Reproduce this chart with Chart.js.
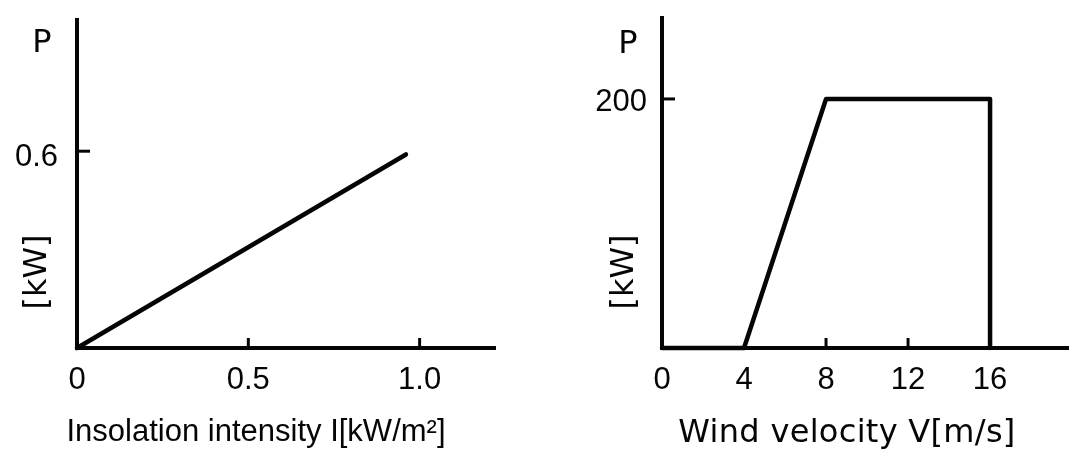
<!DOCTYPE html>
<html>
<head>
<meta charset="utf-8">
<script src="https://cdn.jsdelivr.net/npm/chart.js@4"></script>
<style>
  html, body { margin: 0; padding: 0; background: #fff; }
  #wrap { position: relative; width: 1069px; height: 459px; overflow: hidden; }
  canvas { position: absolute; top: 0; }
</style>
</head>
<body>
<div id="wrap">
  <canvas id="solarChart" width="530" height="459" style="left:0"></canvas>
  <canvas id="windChart" width="529" height="459" style="left:540px"></canvas>
</div>
<script>
// Solar panel: P vs insolation intensity
const solarX = [0, 0.96];
const solarY = [0, 0.59];
const solarXTicks = [0, 0.5, 1.0];
const solarXLabels = ['0', '0.5', '1.0'];
const solarYTicks = [0.6];
const solarYLabels = ['0.6'];

// Wind turbine: P vs wind velocity
const windX = [0, 4, 8, 16, 16];
const windY = [0, 0, 200, 200, 0];
const windXTicks = [0, 4, 8, 12, 16];
const windXLabels = ['0', '4', '8', '12', '16'];
const windYTicks = [200];
const windYLabels = ['200'];

const INK = '#050505';
const FONT = '"Liberation Sans", Arial, sans-serif';
const WIDE = '"DejaVu Sans", sans-serif';

// small tick marks drawn inside the plot area
const innerTicks = {
  id: 'innerTicks',
  afterDraw(chart, args, opts) {
    const ctx = chart.ctx;
    const xs = chart.scales.x, ys = chart.scales.y;
    ctx.save();
    ctx.strokeStyle = INK;
    ctx.lineWidth = 3;
    (opts.x || []).forEach(v => {
      const px = xs.getPixelForValue(v);
      ctx.beginPath();
      ctx.moveTo(px, ys.bottom);
      ctx.lineTo(px, ys.bottom - opts.len);
      ctx.stroke();
    });
    (opts.y || []).forEach(v => {
      const py = ys.getPixelForValue(v);
      ctx.beginPath();
      ctx.moveTo(xs.left, py);
      ctx.lineTo(xs.left + opts.len + 3, py);
      ctx.stroke();
    });
    ctx.restore();
  }
};

// free text: axis symbols, units and titles
const freeText = {
  id: 'freeText',
  afterDraw(chart, args, opts) {
    const ctx = chart.ctx;
    ctx.save();
    ctx.fillStyle = INK;
    ctx.textAlign = 'center';
    ctx.textBaseline = 'middle';
    (opts.items || []).forEach(t => {
      ctx.save();
      ctx.font = (t.size || 30) + 'px ' + (t.family || FONT);
      ctx.letterSpacing = (t.spacing || 0) + 'px';
      ctx.translate(t.x, t.y);
      if (t.rotate) ctx.rotate(t.rotate);
      ctx.fillText(t.text, 0, 0);
      ctx.restore();
    });
    ctx.restore();
  }
};

function makeChart(id, xs, ys, cfg) {
  const points = xs.map((x, i) => ({ x: x, y: ys[i] }));
  return new Chart(document.getElementById(id), {
    type: 'line',
    data: {
      datasets: [{
        data: points,
        borderColor: INK,
        borderWidth: 4.5,
        pointRadius: 0,
        tension: 0,
        fill: false,
        clip: false,
        borderJoinStyle: 'round',
        borderCapStyle: 'round'
      }]
    },
    options: {
      responsive: false,
      animation: false,
      events: [],
      layout: { autoPadding: false, padding: { top: cfg.top, right: cfg.right, left: 0, bottom: 0 } },
      scales: {
        x: {
          type: 'linear',
          min: 0,
          max: cfg.xMax,
          grid: { display: false, drawTicks: false, tickLength: 0 },
          border: { display: true, color: INK, width: 4 },
          afterBuildTicks: s => { s.ticks = cfg.xTicks.map(v => ({ value: v })); },
          afterFit: s => { s.height = 111; s.paddingLeft = 0; s.paddingRight = 0; },
          ticks: {
            color: INK,
            padding: 14,
            maxRotation: 0,
            autoSkip: false,
            font: { family: FONT, size: 31 },
            callback: (v, i) => cfg.xLabels[i]
          }
        },
        y: {
          type: 'linear',
          min: 0,
          max: cfg.yMax,
          grid: { display: false, drawTicks: false, tickLength: 0 },
          border: { display: true, color: INK, width: 4 },
          afterBuildTicks: s => { s.ticks = cfg.yTicks.map(v => ({ value: v })); },
          afterFit: s => { s.width = cfg.yWidth; s.paddingTop = 0; s.paddingBottom = 0; },
          ticks: {
            color: INK,
            padding: cfg.yPad,
            labelOffset: cfg.yLabelOffset,
            autoSkip: false,
            font: { family: FONT, size: 31 },
            callback: (v, i) => cfg.yLabels[i]
          }
        }
      },
      plugins: {
        legend: { display: false },
        tooltip: { enabled: false },
        innerTicks: { x: cfg.innerX, y: cfg.yTicks, len: 10 },
        freeText: { items: cfg.texts }
      }
    },
    plugins: [innerTicks, freeText]
  });
}

makeChart('solarChart', solarX, solarY, {
  top: 20, right: 35, yWidth: 77, xMax: 1.22, yMax: 1.0,
  xTicks: solarXTicks, xLabels: solarXLabels,
  yTicks: solarYTicks, yLabels: solarYLabels,
  yPad: 19, yLabelOffset: 6,
  innerX: [0.5, 1.0],
  texts: [
    { text: 'P', x: 42, y: 44, size: 32, family: WIDE },
    { text: '[kW]', x: 38, y: 272, size: 32, family: WIDE, rotate: -Math.PI / 2 },
    { text: 'Insolation intensity I[kW/m²]', x: 256, y: 432, size: 31 }
  ]
});

makeChart('windChart', windX, windY, {
  top: 18, right: 0, yWidth: 122, xMax: 19.85, yMax: 265,
  xTicks: windXTicks, xLabels: windXLabels,
  yTicks: windYTicks, yLabels: windYLabels,
  yPad: 15, yLabelOffset: 4,
  innerX: [8, 12],
  texts: [
    { text: 'P', x: 88, y: 45, size: 32, family: WIDE },
    { text: '[kW]', x: 85, y: 272, size: 32, family: WIDE, rotate: -Math.PI / 2 },
    { text: 'Wind velocity V[m/s]', x: 307, y: 434, size: 32, family: WIDE, spacing: 0.3 }
  ]
});
</script>
</body>
</html>
